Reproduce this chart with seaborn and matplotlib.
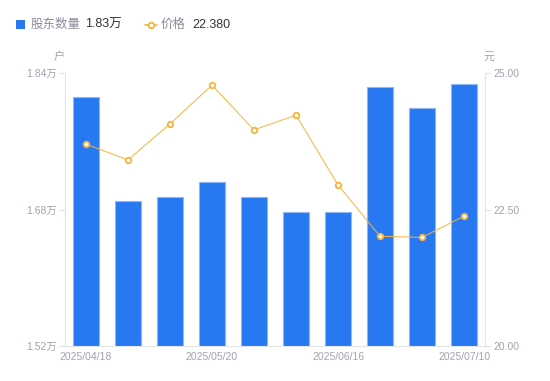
import numpy as np
import pandas as pd
import matplotlib
matplotlib.use("Agg")
import matplotlib.pyplot as plt
import seaborn as sns
from matplotlib.lines import Line2D
from matplotlib.patches import Rectangle

# data
dates = ["2025/04/18", "2025/04/30", "2025/05/09", "2025/05/20", "2025/05/30",
         "2025/06/10", "2025/06/16", "2025/06/20", "2025/06/30", "2025/07/10"]
holders = [1.812, 1.690, 1.695, 1.712, 1.695, 1.677, 1.677, 1.824, 1.799, 1.827]  # 万户
price = [23.70, 23.41, 24.07, 24.78, 23.96, 24.23, 22.95, 22.01, 21.99, 22.38]
shown_ticks = ["2025/04/18", "2025/05/20", "2025/06/16", "2025/07/10"]

BLUE = "#2878f2"
ORANGE = "#f7b33a"
GRAY = "#a0a3b0"
AXIS = "#e3e4e8"

sns.set_style("white")
plt.rcParams["font.family"] = ["Liberation Sans", "Noto Sans CJK SC", "DejaVu Sans"]

df = pd.DataFrame({"date": dates, "holders": holders, "price": price})
df["pos"] = np.arange(len(df))

fig = plt.figure(figsize=(5.5, 3.81), dpi=100)
ax = fig.add_axes([0.118, 0.092, 0.764, 0.716])

sns.barplot(data=df, x="pos", y="holders", color=BLUE, width=0.6,
            edgecolor="#8fb6f7", linewidth=0.8, saturation=1, ax=ax)
ax.set_ylim(1.52, 1.84)
ax.set_yticks([1.52, 1.68, 1.84])
ax.set_yticklabels(["1.52万", "1.68万", "1.84万"])
ax.set_xlim(-0.5, len(df) - 0.5)
ticks = [dates.index(d) for d in shown_ticks]
ax.set_xticks(ticks)
ax.set_xticklabels(shown_ticks)
ax.set_xlabel("")
ax.set_ylabel("")

ax2 = ax.twinx()
sns.lineplot(data=df, x="pos", y="price", color=ORANGE, linewidth=0.7,
             marker="o", markersize=4, markerfacecolor="white",
             markeredgecolor=ORANGE, markeredgewidth=1.3, ax=ax2)
ax2.set_ylim(20, 25)
ax2.set_yticks([20, 22.5, 25])
ax2.set_yticklabels(["20.00", "22.50", "25.00"])
ax2.set_xlim(-0.5, len(df) - 0.5)
ax2.set_ylabel("")

for a in (ax, ax2):
    for s in a.spines.values():
        s.set_visible(False)
    a.tick_params(colors=GRAY, labelsize=7.5, length=4, width=0.8, color=AXIS)
ax.spines["left"].set_visible(True)
ax.spines["left"].set_color(AXIS)
ax.spines["bottom"].set_visible(True)
ax.spines["bottom"].set_color(AXIS)
ax2.spines["right"].set_visible(True)
ax2.spines["right"].set_color(AXIS)
ax.tick_params(axis="x", length=0, pad=4)
ax.tick_params(axis="y", pad=2)
ax2.tick_params(axis="y", pad=2)

# unit labels
fig.text(59 / 550, 1 - 57 / 381, "户", color=GRAY, fontsize=8, ha="center", va="center")
fig.text(489 / 550, 1 - 57 / 381, "元", color=GRAY, fontsize=8, ha="center", va="center")

# legend
fig.patches.append(Rectangle((16 / 550, 1 - 29 / 381), 9 / 550, 9 / 381,
                             transform=fig.transFigure, facecolor=BLUE,
                             edgecolor="none"))
fig.text(31 / 550, 1 - 24.5 / 381, "股东数量", color="#8a8d99", fontsize=9, va="center")
fig.text(85 / 550, 1 - 24.5 / 381, "1.83万", color="#333333", fontsize=9, va="center")
fig.lines.append(Line2D([145 / 550, 157 / 550], [1 - 24.5 / 381, 1 - 24.5 / 381],
                        transform=fig.transFigure, color=ORANGE, linewidth=1.2))
fig.lines.append(Line2D([151 / 550], [1 - 24.5 / 381], transform=fig.transFigure,
                        color=ORANGE, marker="o", markersize=4,
                        markerfacecolor="white", markeredgewidth=1.3))
fig.text(161 / 550, 1 - 24.5 / 381, "价格", color="#8a8d99", fontsize=9, va="center")
fig.text(192 / 550, 1 - 24.5 / 381, "22.380", color="#333333", fontsize=9, va="center")

fig.savefig("out.png", dpi=100, facecolor="white")
